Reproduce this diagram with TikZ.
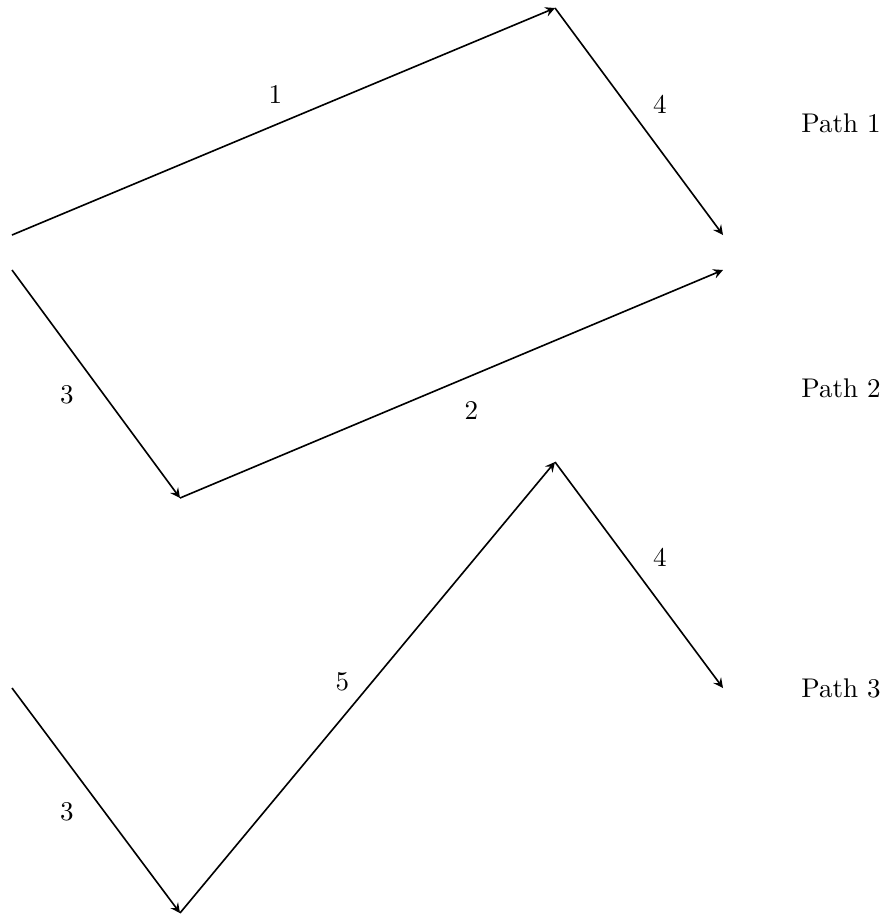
\documentclass[tikz,border=0pt]{standalone}
\usetikzlibrary{arrows}

\tikzset{
    vec/.style={semithick, -stealth}, % one step of a path
    steplabel/.style={inner sep=1pt}
}

\begin{document}
\begin{tikzpicture}[x=0.37pt, y=-0.37pt]
    \useasboundingbox (0,0) rectangle (891,917);
    % Path 1
    \coordinate (a0) at (12,235);
    \coordinate (a1) at (555,8);
    \coordinate (a2) at (723,235);
    \draw [vec] (a0) -- node [steplabel, midway, shift={(-8,-27)}] (l1) {1} (a1);
    \draw [vec] (a1) -- node [steplabel, midway, shift={(21,-17)}] (l4a) {4} (a2);
    \node (path1) at (841,123) {Path 1};
    % Path 2
    \coordinate (b0) at (12,270);
    \coordinate (b1) at (180,498);
    \coordinate (b2) at (723,270);
    \draw [vec] (b0) -- node [steplabel, midway, shift={(-29,11)}] (l3a) {3} (b1);
    \draw [vec] (b1) -- node [steplabel, midway, shift={(20,26)}] (l2) {2} (b2);
    \node (path2) at (841,388) {Path 2};
    % Path 3
    \coordinate (c0) at (12,688);
    \coordinate (c1) at (180,913);
    \coordinate (c2) at (555,462);
    \coordinate (c3) at (723,688);
    \draw [vec] (c0) -- node [steplabel, midway, shift={(-29,11)}] (l3b) {3} (c1);
    \draw [vec] (c1) -- node [steplabel, midway, shift={(-25,-6)}] (l5) {5} (c2);
    \draw [vec] (c2) -- node [steplabel, midway, shift={(21,-18)}] (l4b) {4} (c3);
    \node (path3) at (841,688) {Path 3};
\end{tikzpicture}
\end{document}
